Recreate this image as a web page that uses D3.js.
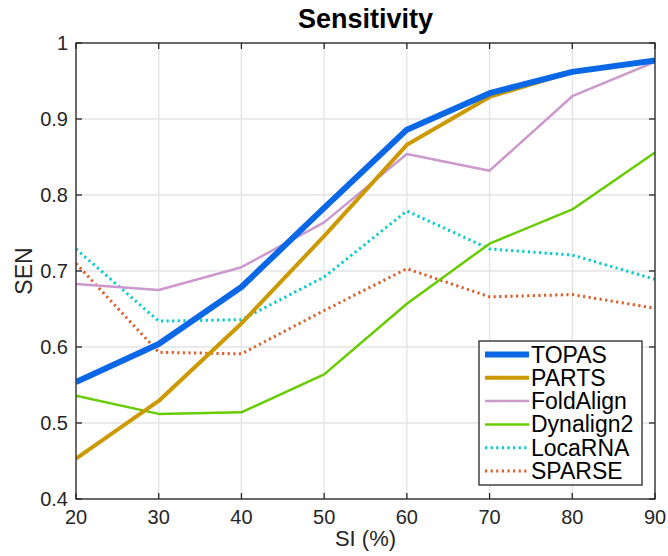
<!DOCTYPE html>
<html>
<head>
<meta charset="utf-8">
<script src="https://cdn.jsdelivr.net/npm/d3@7"></script>
<style>
html,body{margin:0;padding:0;background:#fff;}
svg{display:block;font-family:"Liberation Sans",Arial,Helvetica,sans-serif;}
</style>
</head>
<body>
<svg id="chart" width="668" height="556"></svg>
<script>
const siValues = [20, 30, 40, 50, 60, 70, 80, 90];
const xTicks = [20, 30, 40, 50, 60, 70, 80, 90];
const yTicks = [0.4, 0.5, 0.6, 0.7, 0.8, 0.9, 1];
const yTickLabels = ["0.4", "0.5", "0.6", "0.7", "0.8", "0.9", "1"];

const topas     = [0.554, 0.604, 0.679, 0.783, 0.886, 0.934, 0.962, 0.977];
const parts     = [0.453, 0.529, 0.631, 0.746, 0.866, 0.929, 0.962, 0.977];
const foldAlign = [0.683, 0.675, 0.705, 0.764, 0.854, 0.832, 0.930, 0.975];
const dynalign2 = [0.536, 0.512, 0.514, 0.564, 0.657, 0.736, 0.781, 0.856];
const locaRNA   = [0.729, 0.634, 0.636, 0.692, 0.779, 0.729, 0.721, 0.689];
const sparse    = [0.710, 0.593, 0.591, 0.648, 0.703, 0.666, 0.669, 0.651];

const seriesNames = ["TOPAS", "PARTS", "FoldAlign", "Dynalign2", "LocaRNA", "SPARSE"];
const seriesValues = [topas, parts, foldAlign, dynalign2, locaRNA, sparse];
const seriesColors = ["#0a68e6", "#cc9900", "#cc99cc", "#66cc00", "#00cccc", "#d95f2b"];
const seriesWidths = [6, 4, 2.5, 2.5, 3, 3];
const seriesDash = [null, null, null, null, "2.2,3.4", "2.2,3.4"];

const svg = d3.select("#chart");
const m = {left: 76, right: 13, top: 43, bottom: 57};
const W = 668, H = 556;
const x = d3.scaleLinear().domain([20, 90]).range([m.left, W - m.right]);
const y = d3.scaleLinear().domain([0.4, 1]).range([H - m.bottom, m.top]);
const axisColor = "#262626";

// grid
const g = svg.append("g");
g.selectAll(".vg").data(xTicks).enter().append("line")
  .attr("x1", d => x(d)).attr("x2", d => x(d))
  .attr("y1", y(0.4)).attr("y2", y(1))
  .attr("stroke", "#e3e3e3").attr("stroke-width", 1.3);
g.selectAll(".hg").data(yTicks).enter().append("line")
  .attr("y1", d => y(d)).attr("y2", d => y(d))
  .attr("x1", x(20)).attr("x2", x(90))
  .attr("stroke", "#e3e3e3").attr("stroke-width", 1.3);

// clip
svg.append("clipPath").attr("id", "clip").append("rect")
  .attr("x", x(20)).attr("y", y(1) - 10).attr("width", x(90) - x(20)).attr("height", y(0.4) - y(1) + 10);

// lines
const line = d3.line().x((d, i) => x(siValues[i])).y(d => y(d));
const lg = svg.append("g").attr("clip-path", "url(#clip)");
for (let k = seriesNames.length - 1; k >= 0; k--) {
  const p = lg.append("path").datum(seriesValues[k])
    .attr("d", line)
    .attr("fill", "none")
    .attr("stroke", seriesColors[k])
    .attr("stroke-width", seriesWidths[k])
    .attr("stroke-linejoin", "round");
  if (seriesDash[k]) p.attr("stroke-dasharray", seriesDash[k]);
}

// axes box
const tickLen = 6;
const ax = svg.append("g").attr("stroke", axisColor).attr("stroke-width", 1.3).attr("fill", "none");
ax.append("rect").attr("x", x(20)).attr("y", y(1)).attr("width", x(90) - x(20)).attr("height", y(0.4) - y(1));
ax.selectAll(".xtb").data(xTicks).enter().append("line")
  .attr("x1", d => x(d)).attr("x2", d => x(d)).attr("y1", y(0.4)).attr("y2", y(0.4) - tickLen);
ax.selectAll(".xtt").data(xTicks).enter().append("line")
  .attr("x1", d => x(d)).attr("x2", d => x(d)).attr("y1", y(1)).attr("y2", y(1) + tickLen);
ax.selectAll(".ytl").data(yTicks).enter().append("line")
  .attr("y1", d => y(d)).attr("y2", d => y(d)).attr("x1", x(20)).attr("x2", x(20) + tickLen);
ax.selectAll(".ytr").data(yTicks).enter().append("line")
  .attr("y1", d => y(d)).attr("y2", d => y(d)).attr("x1", x(90)).attr("x2", x(90) - tickLen);

// tick labels
svg.append("g").selectAll("text").data(xTicks).enter().append("text")
  .attr("x", d => x(d)).attr("y", y(0.4) + 25)
  .attr("text-anchor", "middle").attr("font-size", 20).attr("fill", axisColor)
  .text(d => d);
svg.append("g").selectAll("text").data(yTicks).enter().append("text")
  .attr("x", x(20) - 8).attr("y", d => y(d) + 7)
  .attr("text-anchor", "end").attr("font-size", 20).attr("fill", axisColor)
  .text((d, i) => yTickLabels[i]);

// labels
svg.append("text").attr("x", (x(20) + x(90)) / 2).attr("y", 546)
  .attr("text-anchor", "middle").attr("font-size", 22).attr("fill", axisColor).text("SI (%)");
svg.append("text").attr("transform", `translate(32,${(y(0.4) + y(1)) / 2}) rotate(-90)`)
  .attr("text-anchor", "middle").attr("font-size", 23).attr("fill", axisColor).text("SEN");
svg.append("text").attr("x", (x(20) + x(90)) / 2).attr("y", 28)
  .attr("text-anchor", "middle").attr("font-size", 27).attr("font-weight", "bold").attr("fill", "#000").text("Sensitivity");

// legend
const lgX = 479, lgY = 341, lgW = 163, lgH = 144, rowH = 23.3;
const leg = svg.append("g");
leg.append("rect").attr("x", lgX).attr("y", lgY).attr("width", lgW).attr("height", lgH)
  .attr("fill", "#fff").attr("stroke", axisColor).attr("stroke-width", 1.3);
seriesNames.forEach((name, k) => {
  const cy = lgY + 13.5 + k * rowH;
  const l = leg.append("line").attr("x1", lgX + 6).attr("x2", lgX + 50)
    .attr("y1", cy).attr("y2", cy)
    .attr("stroke", seriesColors[k]).attr("stroke-width", seriesWidths[k]);
  if (seriesDash[k]) l.attr("stroke-dasharray", seriesDash[k]);
  leg.append("text").attr("x", lgX + 52).attr("y", cy + 8)
    .attr("font-size", 23).attr("fill", "#000").text(name);
});
</script>
</body>
</html>
